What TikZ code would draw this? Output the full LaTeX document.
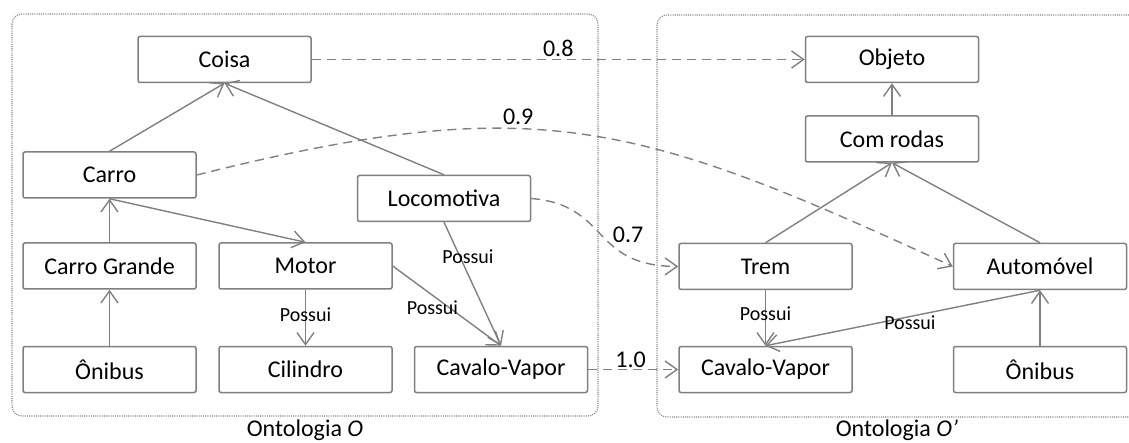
\documentclass[tikz,border=0pt]{standalone}
\usepackage{fontspec}
\setmainfont{Carlito}
\usetikzlibrary{arrows.meta,calc}
\definecolor{ln}{RGB}{128,128,128}
\definecolor{fr}{RGB}{135,135,135}
\begin{document}
\begin{tikzpicture}[x=1pt,y=-1pt,
  box/.style={draw=ln, line width=1.5pt, rounded corners=2pt, minimum width=173pt, minimum height=46pt, inner sep=0pt, font=\fontsize{24}{28}\selectfont, text=black},
  rel/.style={draw=ln, line width=1.4pt, -{Straight Barb[length=12pt,width=17pt]}},
  map/.style={rel, dash pattern=on 9pt off 6pt},
  lbl/.style={font=\fontsize{20}{24}\selectfont, inner sep=0pt, text=black},
  num/.style={font=\fontsize{24}{28}\selectfont, inner sep=0pt, text=black},
  frame/.style={draw=fr, line width=1.1pt, dash pattern=on 1.1pt off 1.1pt, rounded corners=10pt}]
\useasboundingbox (0,0) rectangle (1129,443);
% frames
\draw[frame] (12,14) rectangle (598,416);
\draw[frame] (1140,15) -- (657,15) -- (657,417) -- (1140,417);
% left ontology
\node[box] (coisa) at (224.5,59.5) {Coisa};
\node[box] (carro) at (109.5,175) {Carro};
\node[box] (loco) at (444,198.5) {Locomotiva};
\node[box] (cgrande) at (109.5,266) {Carro Grande};
\node[box] (motor) at (305.5,266) {Motor};
\node[box] (onibusL) at (109.5,369.5) {Ônibus};
\node[box] (cilindro) at (305.5,369.5) {Cilindro};
\node[box] (cavL) at (501,369.5) {Cavalo-Vapor};
% right ontology
\node[box] (objeto) at (892,59.5) {Objeto};
\node[box] (comrodas) at (892,139) {Com rodas};
\node[box] (trem) at (765.5,266.5) {Trem};
\node[box] (auto) at (1040,266.5) {Automóvel};
\node[box] (cavR) at (765.5,369.5) {Cavalo-Vapor};
\node[box] (onibusR) at (1040,369.5) {Ônibus};
% relations left
\draw[rel] (carro.north) -- (coisa.south);
\draw[rel] (loco.north) -- (coisa.south);
\draw[rel] (cgrande.north) -- (carro.south);
\draw[rel] (carro.south) -- (motor.north);
\draw[rel] (onibusL.north) -- (cgrande.south);
\draw[rel] (motor.south) -- node[lbl,pos=0.44]{Possui} (cilindro.north);
\draw[rel] (motor.east) -- node[lbl,pos=0.45,xshift=-9pt,yshift=-6pt]{Possui} (cavL.north);
\draw[rel] (loco.south) -- node[lbl,pos=0.28,xshift=8pt]{Possui} (cavL.north);
% relations right
\draw[rel] (comrodas.north) -- (objeto.south);
\draw[rel] (trem.north) -- (comrodas.south);
\draw[rel] (auto.north) -- (comrodas.south);
\draw[rel] (trem.south) -- node[lbl,pos=0.42]{Possui} (cavR.north);
\draw[rel] (auto.south) -- node[lbl,pos=0.474,yshift=-6pt]{Possui} (cavR.north);
\draw[rel] (onibusR.north) -- (auto.south);
% mappings
\draw[map] (coisa.east) -- node[num,pos=0.5,anchor=south,yshift=2pt]{0.8} (objeto.west);
\draw[map] (carro.east) .. controls (536,90) and (636,121) .. node[num,pos=0.4,anchor=south,yshift=3pt]{0.9} (auto.west);
\draw[map] (loco.east) .. controls (610,205) and (590,266) .. node[num,pos=0.5,anchor=west,xshift=11pt]{0.7} (trem.west);
\draw[map] (cavL.east) -- node[num,pos=0.47,anchor=south,yshift=1pt]{1.0} (cavR.west);
% captions
\node[num,anchor=base] (capO) at (305,436) {Ontologia \textit{O}};
\node[num,anchor=base] (capO2) at (897,436) {Ontologia \textit{O’}};
\end{tikzpicture}
\end{document}
